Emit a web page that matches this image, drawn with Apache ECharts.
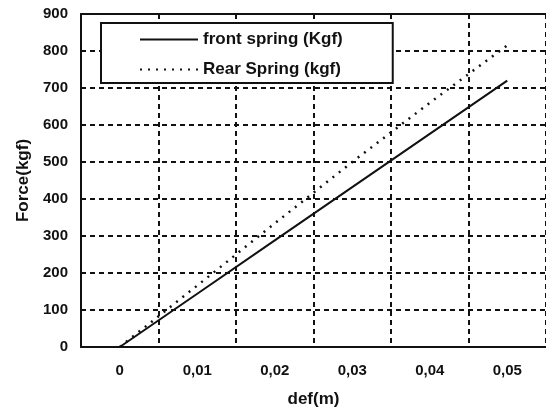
<!DOCTYPE html>
<html>
<head>
<meta charset="utf-8">
<script src="https://cdn.jsdelivr.net/npm/echarts@6/dist/echarts.min.js"></script>
<style>html,body{margin:0;padding:0;background:#fff}#c{width:546px;height:408px}</style>
</head>
<body>
<div id="c"></div>
<script>
var categories = ['0', '0,01', '0,02', '0,03', '0,04', '0,05'];
var frontSpring = [0, 144, 288, 432, 576, 720];
var rearSpring = [0, 166, 334, 500, 660, 815];
var yTicks = [0, 100, 200, 300, 400, 500, 600, 700, 800, 900];

var chart = echarts.init(document.getElementById('c'), null, {renderer: 'canvas'});
var fontFamily = '"Liberation Sans", Arial, sans-serif';
chart.setOption({
  animation: false,
  backgroundColor: '#fff',
  grid: {left: 81, right: 0, top: 14, bottom: 61, containLabel: false, outerBoundsMode: 'none'},
  legend: {
    left: 101, top: 23,
    orient: 'vertical',
    itemWidth: 58, itemHeight: 14, itemGap: 13,
    padding: [8, 50, 5, 38],
    backgroundColor: '#fff',
    borderColor: '#111', borderWidth: 2,
    itemStyle: {opacity: 0},
    textStyle: {fontFamily: fontFamily, fontWeight: 'bold', fontSize: 17, color: '#111'},
    data: ['front spring (Kgf)', 'Rear Spring (kgf)']
  },
  xAxis: [{
    type: 'category',
    data: categories,
    boundaryGap: true,
    name: 'def(m)',
    nameLocation: 'middle',
    nameGap: 44,
    nameTextStyle: {fontFamily: fontFamily, fontWeight: 'bold', fontSize: 17, color: '#111'},
    axisLine: {lineStyle: {color: '#111', width: 2}},
    axisTick: {show: false},
    axisLabel: {fontFamily: fontFamily, fontWeight: 'bold', fontSize: 15, color: '#111', margin: 16},
    splitLine: {show: true, lineStyle: {color: '#111', width: 2, type: [5, 4]}}
  }, {
    type: 'category',
    data: categories,
    position: 'top',
    axisLine: {show: true, lineStyle: {color: '#111', width: 2}},
    axisTick: {show: false},
    axisLabel: {show: false},
    splitLine: {show: false}
  }],
  yAxis: {
    type: 'value',
    min: yTicks[0], max: yTicks[yTicks.length - 1], interval: 100,
    name: 'Force(kgf)',
    nameLocation: 'middle',
    nameGap: 48,
    nameTextStyle: {fontFamily: fontFamily, fontWeight: 'bold', fontSize: 17, color: '#111'},
    axisLine: {show: true, lineStyle: {color: '#111', width: 2}},
    axisTick: {show: false},
    axisLabel: {fontFamily: fontFamily, fontWeight: 'bold', fontSize: 15, color: '#111', margin: 13},
    splitLine: {show: true, lineStyle: {color: '#111', width: 2, type: [5, 4]}}
  },
  series: [{
    name: 'front spring (Kgf)',
    type: 'line',
    data: frontSpring,
    symbol: 'none',
    lineStyle: {color: '#111', width: 2, type: 'solid'},
    itemStyle: {color: '#111'}
  }, {
    name: 'Rear Spring (kgf)',
    type: 'line',
    data: rearSpring,
    symbol: 'none',
    lineStyle: {color: '#111', width: 2.5, type: [2, 6]},
    itemStyle: {color: '#111'}
  }]
});
</script>
</body>
</html>
